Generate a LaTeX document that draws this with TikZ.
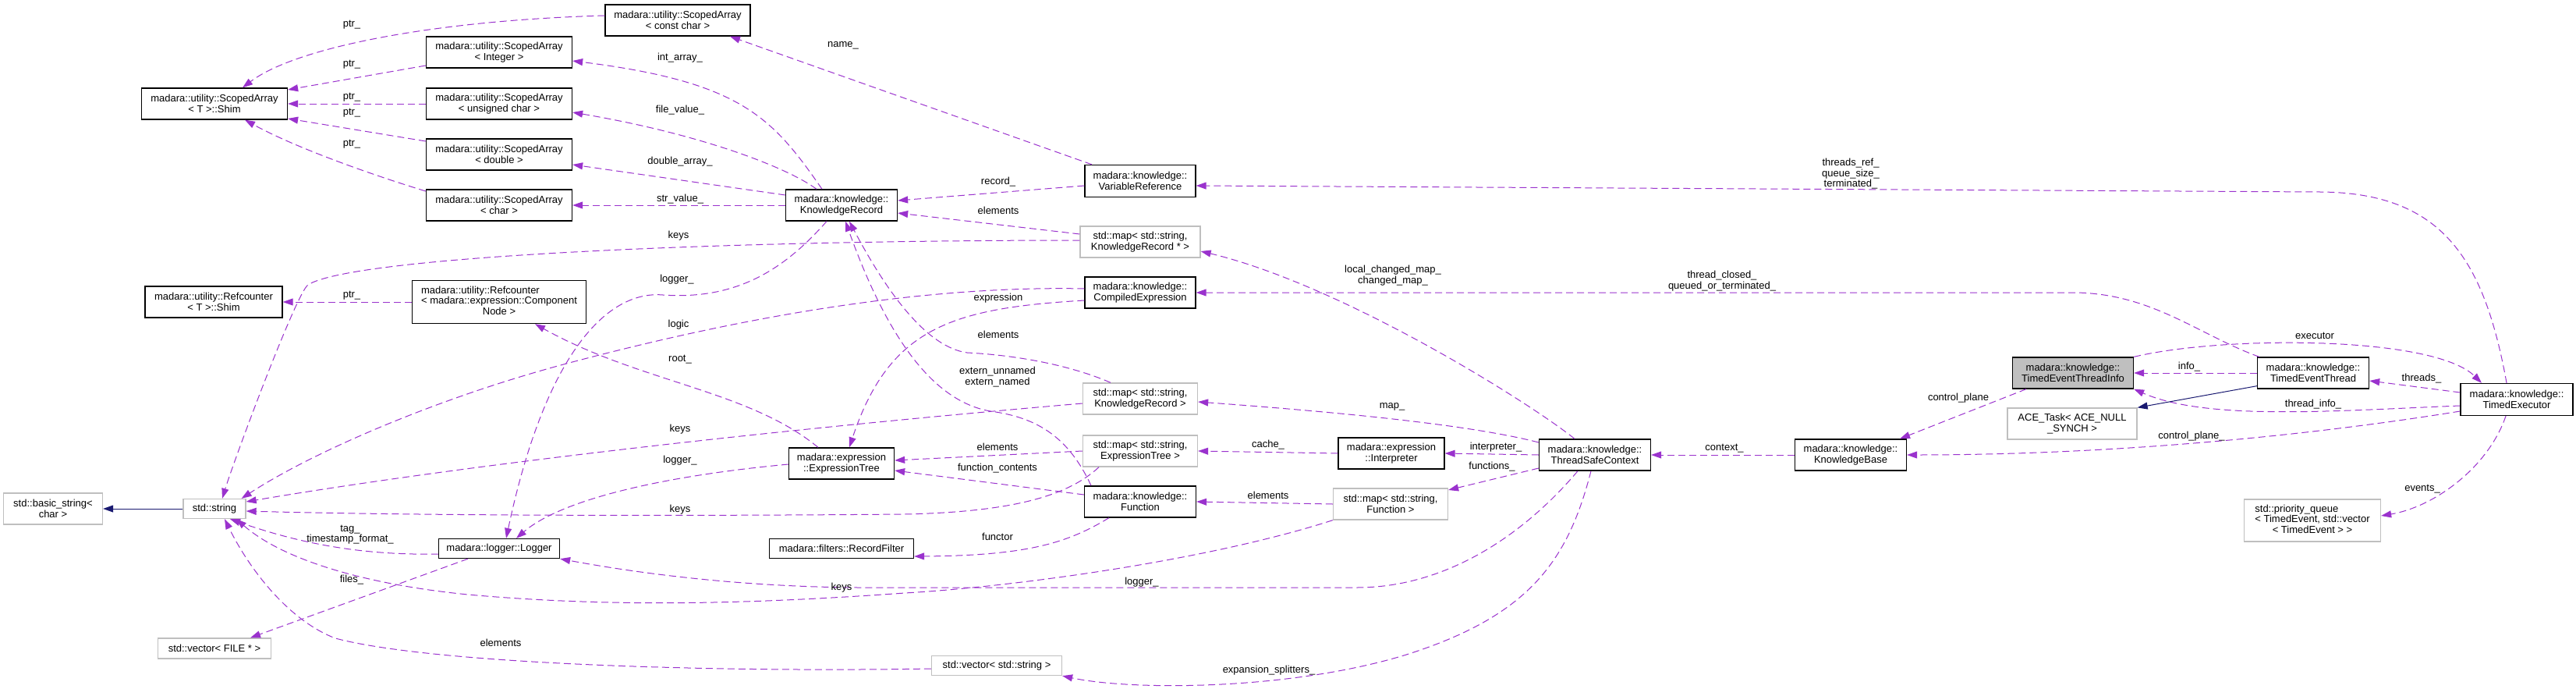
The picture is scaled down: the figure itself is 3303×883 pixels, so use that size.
\documentclass[tikz,border=0pt]{standalone}
\usepackage{fontspec}
\setmainfont{Liberation Sans}
\usepackage{tikz}
\usetikzlibrary{arrows.meta}
\definecolor{usecol}{HTML}{9A32CD}
\definecolor{inhcol}{HTML}{191970}
\definecolor{extcol}{HTML}{BFBFBF}
\tikzset{cls/.style={draw=black,fill=white,line width=1.3pt,inner sep=0pt,minimum height=40pt,align=center,font=\fontsize{13}{13.5}\selectfont},
	ext/.style={cls,draw=extcol},
	cur/.style={cls,fill=extcol},
	lbl/.style={inner sep=0pt,align=center,font=\fontsize{13}{13.5}\selectfont},
	member/.style={->,draw=usecol,line width=1pt,dash pattern=on 9pt off 5pt},
	inherit/.style={->,draw=inhcol,line width=1pt}}
\begin{document}
\begin{tikzpicture}[x=1pt,y=-1pt,>={Triangle[length=13pt,width=9pt]}]
		\useasboundingbox (0,0) rectangle (3303,883);
		\node[cls,minimum width=187pt] (shimSA) at (275,133) {madara::utility::ScopedArray\\< T >::Shim};
		\node[cls,minimum width=176pt] (shimRC) at (274,387) {madara::utility::Refcounter\\< T >::Shim};
		\node[cls,minimum width=186pt] (saConst) at (869,26) {madara::utility::ScopedArray\\< const char >};
		\node[cls,minimum width=187pt] (saInt) at (640,67) {madara::utility::ScopedArray\\< Integer >};
		\node[cls,minimum width=187pt] (saUChar) at (640,133) {madara::utility::ScopedArray\\< unsigned char >};
		\node[cls,minimum width=187pt] (saDouble) at (640,198) {madara::utility::ScopedArray\\< double >};
		\node[cls,minimum width=187pt] (saChar) at (640,263) {madara::utility::ScopedArray\\< char >};
		\node[cls,minimum width=143pt] (record) at (1079,263) {madara::knowledge::\\KnowledgeRecord};
		\node[cls,minimum width=223pt,minimum height=55pt] (rcNode) at (640,387) {\begin{tabular}{@{}l@{}}madara::utility::Refcounter\\< madara::expression::Component\\\multicolumn{1}{@{}c@{}}{Node >}\end{tabular}};
		\node[cls,minimum width=142pt,minimum height=41pt] (varRef) at (1462,232) {madara::knowledge::\\VariableReference};
		\node[ext,minimum width=154pt] (mapPtr) at (1462,310) {std::map< std::string,\\KnowledgeRecord * >};
		\node[cls,minimum width=142pt] (compiled) at (1462,375) {madara::knowledge::\\CompiledExpression};
		\node[ext,minimum width=147pt] (mapRec) at (1462,511) {std::map< std::string,\\KnowledgeRecord >};
		\node[ext,minimum width=147pt] (mapTree) at (1462,578) {std::map< std::string,\\ExpressionTree >};
		\node[cls,minimum width=143pt] (function) at (1462,643) {madara::knowledge::\\Function};
		\node[ext,minimum width=167pt,minimum height=25pt] (vecStr) at (1278,853) {std::vector< std::string >};
		\node[cls,minimum width=185pt,minimum height=25pt] (filter) at (1079,703) {madara::filters::RecordFilter};
		\node[cls,minimum width=135pt] (tree) at (1079,594) {madara::expression\\::ExpressionTree};
		\node[cls,minimum width=155pt,minimum height=25pt] (logger) at (640,703) {madara::logger::Logger};
		\node[ext,minimum width=127pt] (basicStr) at (68,652) {std::basic\_string<\\char >};
		\node[ext,minimum width=80pt,minimum height=25pt] (string) at (275,652) {std::string};
		\node[ext,minimum width=145pt,minimum height=26pt] (vecFile) at (275,831) {std::vector< FILE * >};
		\node[cls,minimum width=136pt] (interp) at (1784,581) {madara::expression\\::Interpreter};
		\node[ext,minimum width=147pt] (mapFunc) at (1783,646) {std::map< std::string,\\Function >};
		\node[cls,minimum width=143pt] (context) at (2045,583) {madara::knowledge::\\ThreadSafeContext};
		\node[cls,minimum width=143pt] (kb) at (2373,583) {madara::knowledge::\\KnowledgeBase};
		\node[cur,minimum width=155pt] (info) at (2658,478) {madara::knowledge::\\TimedEventThreadInfo};
		\node[cls,minimum width=143pt] (thread) at (2966,478) {madara::knowledge::\\TimedEventThread};
		\node[ext,minimum width=166pt] (aceTask) at (2657,543) {ACE\_Task< ACE\_NULL\\\_SYNCH >};
		\node[cls,minimum width=144pt,minimum height=41pt] (executor) at (3227,512) {madara::knowledge::\\TimedExecutor};
		\node[ext,minimum width=175pt,minimum height=54pt] (queue) at (2965,667) {\begin{tabular}{@{}l@{}}std::priority\_queue\\< TimedEvent, std::vector\\\multicolumn{1}{@{}c@{}}{< TimedEvent > >}\end{tabular}};
		\draw[member] ([yshift=6pt]saConst.west) .. controls (560,26) and (380,60) .. ([xshift=36pt]shimSA.north);
		\draw[member] ([yshift=-17pt]saInt.west) -- ([yshift=18pt]shimSA.east);
		\draw[member] (saUChar.west) -- (shimSA.east);
		\draw[member] ([yshift=17pt]saDouble.west) -- ([yshift=-19pt]shimSA.east);
		\draw[member] ([yshift=18pt]saChar.west) .. controls (480,225) and (380,190) .. ([xshift=39pt]shimSA.south);
		\draw[member] (rcNode.west) -- (shimRC.east);
		\draw[member] ([xshift=-62pt]varRef.north) -- ([xshift=67pt]saConst.south);
		\draw[member] ([xshift=-25pt]record.north) .. controls (990,150) and (950,105) .. ([yshift=-11pt]saInt.east);
		\draw[member] ([xshift=-32pt]record.north) .. controls (1010,215) and (900,172) .. ([yshift=-11pt]saUChar.east);
		\draw[member] ([yshift=13pt]record.west) -- ([yshift=-13pt]saDouble.east);
		\draw[member] (record.west) -- (saChar.east);
		\draw[member] ([yshift=2pt]mapPtr.west) .. controls (900,308) and (450,330) .. (395,365) .. controls (380,375) and (300,590) .. ([xshift=10pt]string.north);
		\draw[member] ([yshift=-6pt]varRef.west) -- ([yshift=6pt]record.east);
		\draw[member] ([yshift=10pt]mapPtr.west) -- ([yshift=-10pt]record.east);
		\draw[member] ([xshift=-19pt]record.south) .. controls (1010,340) and (950,385) .. (850,378) .. controls (780,372) and (700,450) .. ([xshift=9pt]logger.north);
		\draw[member] ([yshift=5pt]compiled.west) .. controls (1150,365) and (900,420) .. (730,465) .. controls (560,510) and (400,580) .. ([xshift=-6pt]string.north east);
		\draw[member] ([yshift=-10pt]compiled.west) .. controls (1220,395) and (1140,420) .. ([xshift=10pt]tree.north);
		\draw[member] ([xshift=-30pt]tree.north) .. controls (960,500) and (820,490) .. ([xshift=46pt]rcNode.south);
		\draw[member] ([xshift=-38pt]mapRec.north) .. controls (1370,467) and (1300,455) .. (1240,452) .. controls (1190,445) and (1140,380) .. ([xshift=10pt]record.south);
		\draw[member] ([xshift=-63pt]function.north) .. controls (1370,560) and (1330,535) .. (1270,527) .. controls (1200,515) and (1140,440) .. ([xshift=5pt]record.south);
		\draw[member] ([yshift=-6pt]mapRec.west) .. controls (1000,550) and (600,595) .. ([yshift=9pt]string.east);
		\draw[member] (mapTree.west) -- ([yshift=4pt]tree.east);
		\draw[member] ([yshift=9pt]function.west) -- ([yshift=-9pt]tree.east);
		\draw[member] ([yshift=-1pt]tree.west) .. controls (850,610) and (720,640) .. ([xshift=22pt]logger.north);
		\draw[member] ([xshift=-53pt]mapTree.south) .. controls (1370,635) and (1300,656) .. (1160,659) .. controls (800,662) and (500,660) .. ([yshift=-3pt]string.east);
		\draw[member] ([xshift=-40pt]function.south) .. controls (1370,695) and (1320,712) .. ([yshift=-10pt]filter.east);
		\draw[member] ([xshift=-22pt]context.south) .. controls (1950,690) and (1850,753) .. (1740,753) -- (1100,753) .. controls (950,752) and (820,735) .. (logger.south east);
		\draw[member] (mapFunc.south west) .. controls (1550,718) and (1300,752) .. (1160,760) .. controls (950,775) and (780,778) .. (600,762) .. controls (460,748) and (360,715) .. ([xshift=28pt]string.south);
		\draw[member] ([yshift=-7pt]logger.west) .. controls (460,712) and (380,695) .. ([xshift=20pt]string.south);
		\draw[member] ([xshift=-40pt]logger.south) -- ([xshift=46pt]vecFile.north);
		\draw[member] ([yshift=-4pt]vecStr.west) .. controls (900,862) and (550,850) .. (430,818) .. controls (370,795) and (320,730) .. ([xshift=13pt]string.south);
		\draw[member] ([xshift=-5pt]context.south) .. controls (2010,720) and (1960,790) .. (1800,840) .. controls (1650,885) and (1450,885) .. (vecStr.south east);
		\draw[member] ([xshift=-26pt]context.north) .. controls (1960,515) and (1720,365) .. ([yshift=-12pt]mapPtr.east);
		\draw[member] ([yshift=16pt]context.west) .. controls (1880,543) and (1700,527) .. ([yshift=-4pt]mapRec.east);
		\draw[member] (context.west) -- (interp.east);
		\draw[member] ([yshift=-17pt]context.west) -- ([yshift=18pt]mapFunc.east);
		\draw[member] (interp.west) -- (mapTree.east);
		\draw[member] (mapFunc.west) -- (function.east);
		\draw[member] (kb.west) -- (context.east);
		\draw[member] ([xshift=-13pt]executor.north) .. controls (3185,330) and (3130,247) .. (2975,246) -- ([yshift=-6pt]varRef.east);
		\draw[member] ([xshift=-69pt]thread.north) .. controls (2820,430) and (2760,376) .. (2660,375) -- (compiled.east);
		\draw[member] (info.north east) .. controls (2850,430) and (3120,430) .. ([xshift=-45pt]executor.north);
		\draw[member] (thread.west) -- (info.east);
		\draw[member] ([yshift=9pt]executor.west) -- ([yshift=-10pt]thread.east);
		\draw[member] ([yshift=-8pt]executor.west) .. controls (3000,526) and (2830,540) .. (info.south east);
		\draw[member] ([yshift=-15pt]executor.west) .. controls (2950,560) and (2700,583) .. (kb.east);
		\draw[member] ([xshift=-60pt]info.south) -- ([xshift=63pt]kb.north);
		\draw[member] ([xshift=-14pt]executor.south) .. controls (3190,600) and (3120,650) .. ([yshift=6pt]queue.east);
		\draw[inherit] ([yshift=4pt]thread.south west) -- (aceTask.north east);
		\draw[inherit] (string.west) -- (basicStr.east);
		\node[lbl] (lPtrA) at (451,32) {ptr\_};
		\node[lbl] (lPtrB) at (451,83) {ptr\_};
		\node[lbl] (lPtrC) at (451,125) {ptr\_};
		\node[lbl] (lPtrD) at (451,145) {ptr\_};
		\node[lbl] (lPtrE) at (451,185) {ptr\_};
		\node[lbl] (lPtrF) at (451,379) {ptr\_};
		\node[lbl] (lName) at (1081,58) {name\_};
		\node[lbl] (lIntArr) at (872,74) {int\_array\_};
		\node[lbl] (lFileVal) at (872,141) {file\_value\_};
		\node[lbl] (lDblArr) at (872,207) {double\_array\_};
		\node[lbl] (lStrVal) at (872,255) {str\_value\_};
		\node[lbl] (lKeysA) at (870,302) {keys};
		\node[lbl] (lLogA) at (868,358) {logger\_};
		\node[lbl] (lLogic) at (870,416) {logic};
		\node[lbl] (lRoot) at (872,461) {root\_};
		\node[lbl] (lKeysB) at (872,550) {keys};
		\node[lbl] (lLogB) at (872,590) {logger\_};
		\node[lbl] (lKeysC) at (872,653) {keys};
		\node[lbl] (lKeysD) at (1079,753) {keys};
		\node[lbl] (lTag) at (449,685) {tag\_\\timestamp\_format\_};
		\node[lbl] (lFiles) at (451,743) {files\_};
		\node[lbl] (lElemA) at (642,824) {elements};
		\node[lbl] (lRecord) at (1280,233) {record\_};
		\node[lbl] (lElemB) at (1280,270) {elements};
		\node[lbl] (lExpr) at (1280,382) {expression};
		\node[lbl] (lElemC) at (1280,429) {elements};
		\node[lbl] (lExtern) at (1279,483) {extern\_unnamed\\extern\_named};
		\node[lbl] (lElemD) at (1279,573) {elements};
		\node[lbl] (lFnCont) at (1279,600) {function\_contents};
		\node[lbl] (lFunctor) at (1279,688) {functor};
		\node[lbl] (lLogC) at (1464,746) {logger\_};
		\node[lbl] (lSplit) at (1627,859) {expansion\_splitters\_};
		\node[lbl] (lCache) at (1626,570) {cache\_};
		\node[lbl] (lElemE) at (1626,635) {elements};
		\node[lbl] (lMap) at (1785,521) {map\_};
		\node[lbl] (lInterp) at (1918,573) {interpreter\_};
		\node[lbl] (lFuncs) at (1913,598) {functions\_};
		\node[lbl] (lCtx) at (2211,575) {context\_};
		\node[lbl] (lChanged) at (1786,353) {local\_changed\_map\_\\changed\_map\_};
		\node[lbl] (lClosed) at (2208,360) {thread\_closed\_\\queued\_or\_terminated\_};
		\node[lbl] (lThrRef) at (2373,223) {threads\_ref\_\\queue\_size\_\\terminated\_};
		\node[lbl] (lExec) at (2968,430) {executor};
		\node[lbl] (lInfo) at (2807,470) {info\_};
		\node[lbl] (lThreads) at (3105,485) {threads\_};
		\node[lbl] (lThrInfo) at (2966,518) {thread\_info\_};
		\node[lbl] (lCtrlA) at (2511,510) {control\_plane};
		\node[lbl] (lCtrlB) at (2810,559) {control\_plane\_};
		\node[lbl] (lEvents) at (3106,627) {events\_};
	\end{tikzpicture}
\end{document}
